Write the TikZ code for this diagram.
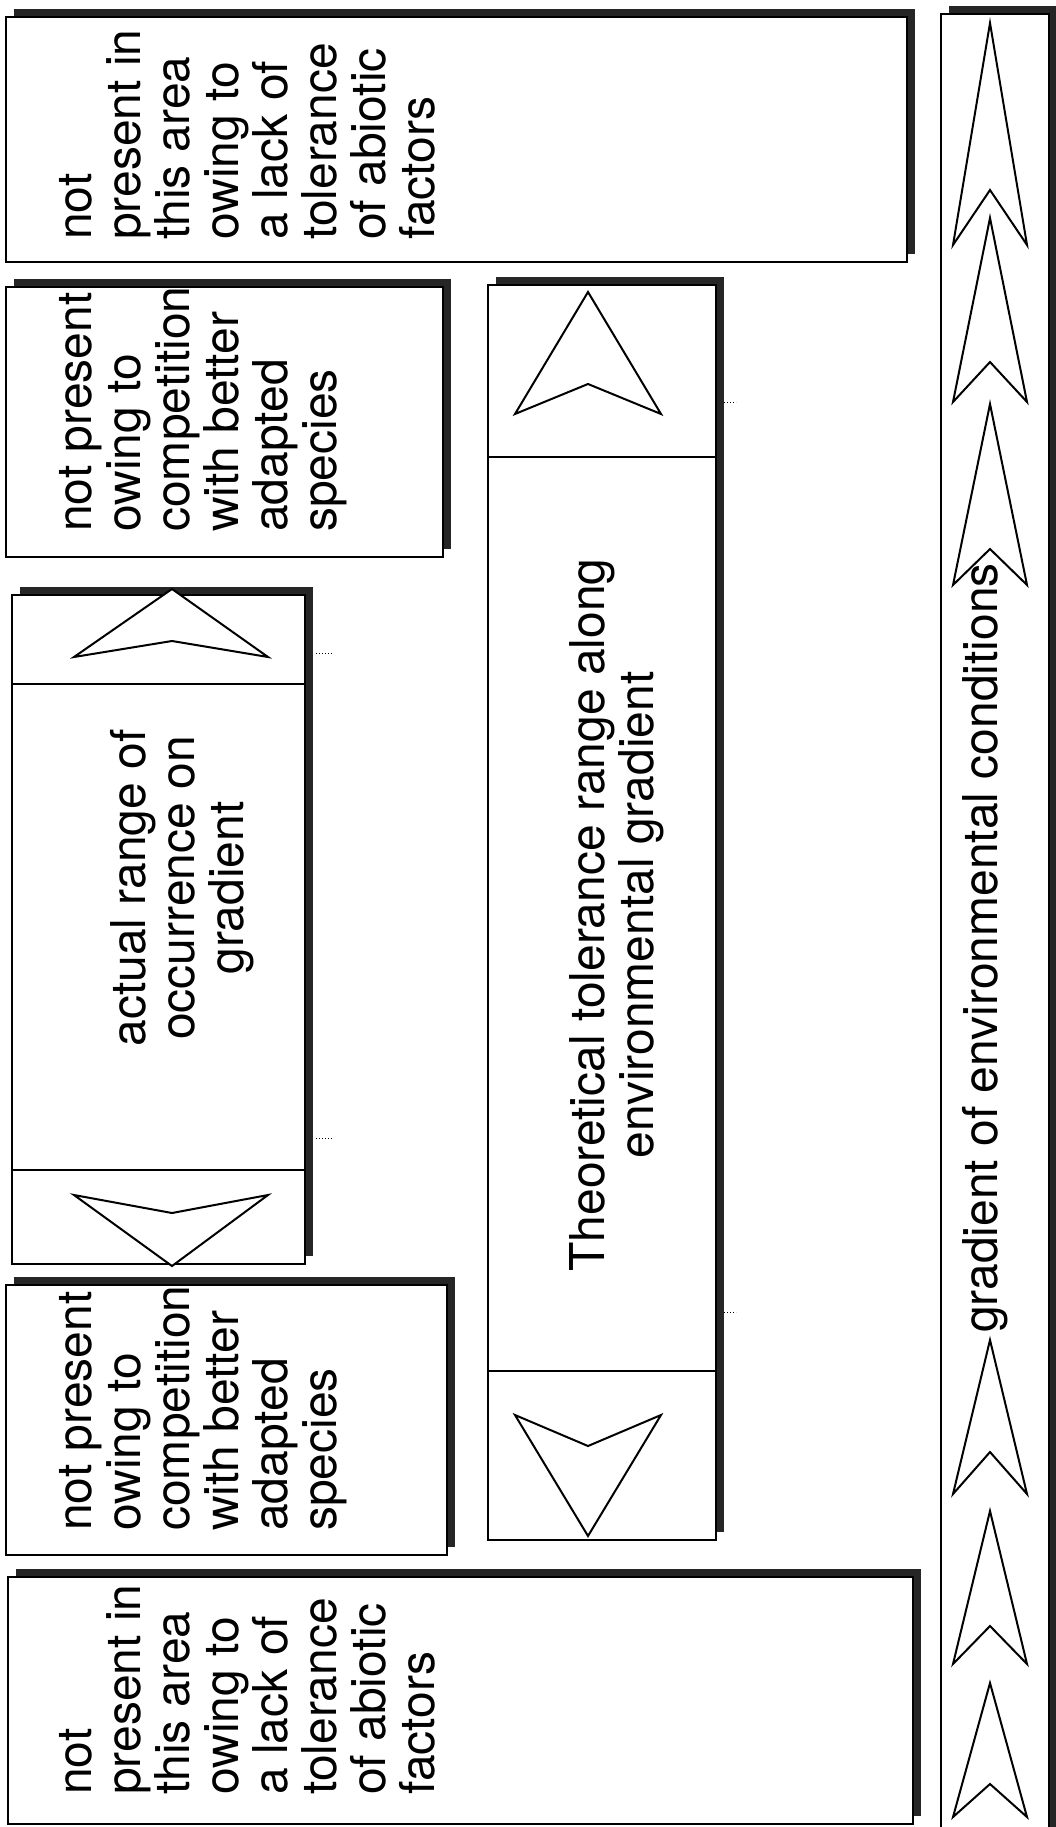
\documentclass[tikz,border=0pt]{standalone}
\usepackage{fontspec}
\setmainfont{TeX Gyre Heros}
\usetikzlibrary{shadows}
\tikzset{panel/.style = {draw, fill=white, line width=1.5pt,
    drop shadow={shadow xshift=8pt, shadow yshift=8pt, fill=black!85, opacity=1}}}
\tikzset{blurb/.style = {rotate=90, align=left, anchor=north west, inner sep=0,
    font=\fontsize{48}{49}\selectfont}}
\tikzset{midtext/.style = {rotate=90, align=center, inner sep=0,
    font=\fontsize{48}{49}\selectfont}}
\tikzset{chevron/.style = {draw, fill=white, line width=2pt, line join=miter}}
\tikzset{speck/.style = {dotted, line width=1pt}}

\begin{document}
\begin{tikzpicture}[x=1pt, y=-1pt]
        \useasboundingbox (0,0) rectangle (1056,1827);
        % panels
        \draw [panel] (6,17) rectangle (907,262);
        \draw [panel] (6,287) rectangle (443,557);
        \draw [panel] (12,595) rectangle (305,1264);
        \draw [panel] (488,285) rectangle (716,1540);
        \draw [panel] (6,1285) rectangle (447,1555);
        \draw [panel] (8,1577) rectangle (913,1824);
        \draw [panel] (941,14) rectangle (1049,1840);
        % dividers
        \draw [line width=1.5pt] (12,684) -- (305,684);
        \draw [line width=1.5pt] (12,1170) -- (305,1170);
        \draw [line width=1.5pt] (488,457) -- (716,457);
        \draw [line width=1.5pt] (488,1371) -- (716,1371);
        % texts
        \node [blurb] (abioticA) at (57,240) {\strut not\\present in\\this area\\owing to\\a lack of\\tolerance\\of abiotic\\factors};
        \node [blurb] (competeA) at (57,532) {\strut not present\\owing to\\competition\\with better\\adapted\\species};
        \node [blurb] (competeB) at (57,1531) {\strut not present\\owing to\\competition\\with better\\adapted\\species};
        \node [blurb] (abioticB) at (57,1795) {\strut not\\present in\\this area\\owing to\\a lack of\\tolerance\\of abiotic\\factors};
        \node [midtext] (actual) at (182,888) {actual range of\\occurrence on\\gradient};
        \node [midtext] (theory) at (617,915) {Theoretical tolerance range along\\environmental gradient};
        % arrowheads
        \draw [chevron] (172,589) -- (268,657) -- (172,641) -- (74,657) -- cycle;
        \draw [chevron] (172,1266) -- (268,1195) -- (172,1213) -- (74,1195) -- cycle;
        \draw [chevron] (588,292) -- (661,414) -- (588,384) -- (515,414) -- cycle;
        \draw [chevron] (588,1536) -- (661,1415) -- (588,1446) -- (515,1415) -- cycle;
        \foreach \tip/\notch/\base in {23/190/245, 218/362/402, 404/549/585,
            1340/1452/1494, 1511/1626/1664, 1683/1784/1817}
          \draw [chevron] (990,\tip) -- (1027,\base) -- (990,\notch) -- (953,\base) -- cycle;
        \node [midtext] (grad) at (985,948) {gradient of environmental conditions};
        % specks
        \draw [speck] (316,653) -- (332,653);
        \draw [speck] (316,1138) -- (332,1138);
        \draw [speck] (724,402) -- (736,402);
        \draw [speck] (724,1312) -- (736,1312);
      \end{tikzpicture}
\end{document}
